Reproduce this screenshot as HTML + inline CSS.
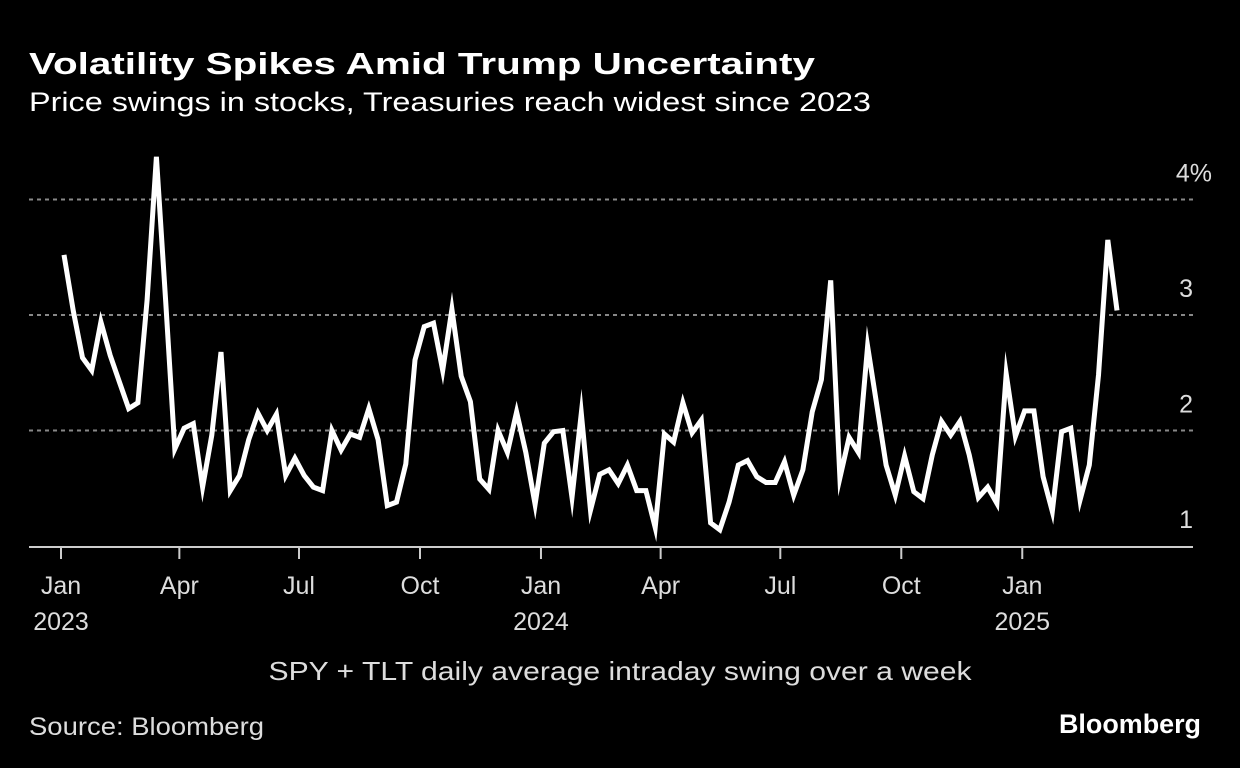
<!DOCTYPE html>
<html><head><meta charset="utf-8">
<style>
html,body{margin:0;padding:0;background:#000;}
svg{display:block;}
text{font-family:"Liberation Sans",sans-serif;}
</style></head>
<body>
<svg id="chart" width="1240" height="768" viewBox="0 0 1240 768">
<rect width="1240" height="768" fill="#000"/>
<text x="29" y="74" fill="#fff" font-size="31" font-weight="bold" textLength="786" lengthAdjust="spacingAndGlyphs">Volatility Spikes Amid Trump Uncertainty</text>
<text x="29" y="111" fill="#fff" font-size="27" textLength="842" lengthAdjust="spacingAndGlyphs">Price swings in stocks, Treasuries reach widest since 2023</text>
<g id="grid"></g>
<g id="xaxis"></g>
<g id="yaxis"></g>
<path id="line" fill="none" stroke="#fff" stroke-width="5" stroke-linejoin="miter" stroke-miterlimit="10"/>
<text x="620" y="680" fill="#ddd" font-size="26" text-anchor="middle" textLength="703" lengthAdjust="spacingAndGlyphs">SPY + TLT daily average intraday swing over a week</text>
<text x="29" y="735" fill="#ddd" font-size="25" textLength="235" lengthAdjust="spacingAndGlyphs">Source: Bloomberg</text>
<text x="1201" y="733" fill="#fff" font-size="27" font-weight="bold" text-anchor="end" textLength="142" lengthAdjust="spacingAndGlyphs">Bloomberg</text>
</svg>
<script>
const values = [3.52,3.04,2.63,2.52,2.94,2.65,2.42,2.19,2.24,3.13,4.37,3.13,1.84,2.02,2.06,1.51,1.96,2.68,1.48,1.61,1.92,2.15,2.00,2.14,1.61,1.76,1.61,1.51,1.48,2.00,1.83,1.97,1.94,2.19,1.92,1.35,1.38,1.71,2.61,2.90,2.93,2.52,3.05,2.47,2.25,1.58,1.49,2.00,1.81,2.16,1.81,1.36,1.89,1.99,2.00,1.42,2.15,1.31,1.62,1.66,1.54,1.70,1.48,1.48,1.16,1.97,1.90,2.24,1.98,2.09,1.20,1.14,1.38,1.70,1.74,1.60,1.55,1.55,1.73,1.44,1.66,2.16,2.44,3.30,1.59,1.94,1.81,2.73,2.22,1.70,1.44,1.78,1.47,1.41,1.79,2.08,1.96,2.08,1.79,1.42,1.51,1.37,2.49,1.95,2.17,2.17,1.60,1.30,1.99,2.02,1.40,1.70,2.48,3.65,3.04];
const yTicks = [1,2,3,4];
const yTickLabels = ["1","2","3","4%"];
const xTickDates = ["2023-01-01","2023-04-01","2023-07-01","2023-10-01","2024-01-01","2024-04-01","2024-07-01","2024-10-01","2025-01-01"];
const xTickLabels = ["Jan","Apr","Jul","Oct","Jan","Apr","Jul","Oct","Jan"];
const xYearLabels = ["2023","","","","2024","","","","2025"];

const NS="http://www.w3.org/2000/svg";
const yS = v => 546 - (v-1)*115.5;
const t0 = Date.UTC(2023,0,1);
const xDate = s => { const d=(Date.parse(s+"T00:00:00Z")-t0)/86400000; return 61 + d*1.315; };
const xIdx = i => 64 + i*(1117-64)/(values.length-1);
function mk(tag,attrs,parent,txt){const e=document.createElementNS(NS,tag);for(const k in attrs)e.setAttribute(k,attrs[k]);if(txt!==undefined)e.textContent=txt;parent.appendChild(e);return e;}

const grid=document.getElementById('grid');
yTicks.forEach((t,i)=>{
  if(t>1){
    const l=mk('line',{x1:29,x2:1193,y1:yS(t),y2:yS(t),stroke:'#888','stroke-width':2,'stroke-dasharray':'4,4'},grid);
    
    
  }
  const tx=mk('text',{x:1193,y:yS(t)-18,fill:'#ddd','font-size':25,'text-anchor':'end'},document.getElementById('yaxis'),yTickLabels[i]);
  if(t===4){tx.setAttribute('x',1212);}
  
  
});
const xa=document.getElementById('xaxis');
const ax=mk('line',{x1:29,x2:1193,y1:547,y2:547,stroke:'#ccc','stroke-width':2},xa);


xTickDates.forEach((s,i)=>{
  const x=xDate(s);
  const tk=mk('line',{x1:x,x2:x,y1:547,y2:559,stroke:'#ccc','stroke-width':2},xa);
  
  
  const t=mk('text',{x:x,y:594,fill:'#ddd','font-size':25,'text-anchor':'middle'},xa,xTickLabels[i]);
  
  
  if(xYearLabels[i]){
    const y=mk('text',{x:x,y:630,fill:'#ddd','font-size':25,'text-anchor':'middle'},xa,xYearLabels[i]);
    
    
  }
});
document.getElementById('line').setAttribute('d',values.map((v,i)=>(i?'L':'M')+xIdx(i).toFixed(1)+','+yS(v).toFixed(1)).join(' '));
</script>
</body></html>
